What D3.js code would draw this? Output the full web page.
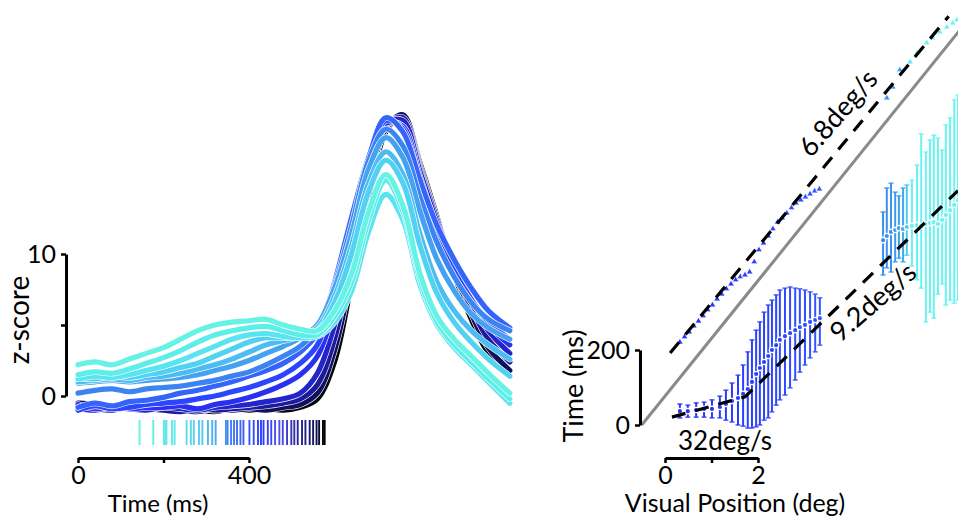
<!DOCTYPE html>
<html><head><meta charset="utf-8">
<script src="https://cdn.jsdelivr.net/npm/d3@7"></script>
<style>
body{margin:0;background:#fff}
svg{display:block}
</style>
</head><body>
<svg id="c" width="958" height="519"></svg>
<script>
// ---------------- DATA ----------------
// Left panel: z-scored population traces, ordered from earliest (cyan) to latest (black) onset
const times = [0,40,80,120,160,200,240,280,320,360,400,440,480,520,560,600,640,680,720,760,800,840,880,920,960,1010];
const trace0  = [2.2,2.4,2.2,2.6,3.0,3.4,4.0,4.6,5.0,5.2,5.3,5.4,5.0,4.7, 4.6,6.0,8.6,13.0,15.6,13.4,8.6,5.6,4.0,2.8,1.6,0.2];
const trace1  = [1.5,1.7,1.6,1.9,2.3,2.7,3.2,3.8,4.3,4.6,4.8,4.9,4.6,4.3, 4.3,5.6,8.0,12.4,15.2,13.0,8.2,5.2,3.6,2.4,1.2,-0.2];
const trace2  = [1.2,1.4,1.3,1.5,1.8,2.1,2.5,3.0,3.5,4.0,4.3,4.4,4.2,4.1, 4.2,5.2,7.4,11.6,14.2,12.4,7.8,5.0,3.4,2.2,1.0,-0.5];
const trace3  = [1.3,1.2,1.4,1.3,1.5,1.7,2.0,2.3,2.8,3.3,3.8,4.1,4.1,4.2, 4.6,6.6,10.0,14.4,16.6,15.0,10.6,7.2,5.2,3.8,2.6,1.4];
const trace4  = [1.0,1.1,1.2,1.1,1.3,1.4,1.6,1.9,2.2,2.6,3.1,3.6,3.9,4.2, 4.8,7.0,10.6,15.0,17.2,15.6,11.4,8.0,6.0,4.6,3.6,2.6];
const trace5  = [0.9,1.0,1.1,1.0,1.1,1.2,1.3,1.5,1.8,2.1,2.5,3.0,3.5,4.1, 5.0,7.6,11.4,16.0,18.2,16.8,13.0,9.6,7.4,5.8,4.8,4.0];
const trace6  = [0.2,0.4,0.5,0.3,0.5,0.6,0.7,0.9,1.1,1.4,1.7,2.2,2.8,3.5, 4.8,7.8,12.0,16.6,18.8,17.6,14.0,10.8,8.4,6.6,5.4,4.6];
const trace7  = [-0.8,-0.5,-0.7,-0.4,-0.3,-0.1,0.2,0.4,0.7,1.0,1.4,1.8,2.3,3.1, 4.4,8.0,12.6,16.8,19.6,18.6,15.2,12.0,9.6,7.6,6.0,4.8];
const trace8  = [-1.0,-0.7,-0.9,-0.8,-0.6,-0.5,-0.4,-0.2,0.0,0.3,0.6,1.0,1.5,2.3, 3.6,7.2,12.0,16.6,19.4,18.8,15.0,11.4,8.8,6.8,5.2,4.0];
const trace9  = [-0.6,-0.9,-0.7,-0.9,-0.8,-0.8,-0.7,-0.9,-0.6,-0.4,-0.1,0.3,0.8,1.5, 2.8,6.2,11.2,16.2,19.2,19.0,15.4,11.8,9.0,6.8,5.0,3.6];
const trace10 = [-0.9,-1.0,-0.8,-0.9,-1.0,-0.8,-0.9,-1.0,-0.8,-0.7,-0.6,-0.4,-0.2,0.2, 1.6,5.0,10.2,15.6,19.2,19.4,15.8,12.2,9.2,6.6,4.6,3.0];
const trace11 = [-0.7,-0.9,-1.0,-0.8,-0.9,-1.0,-1.1,-0.9,-1.0,-0.9,-0.8,-0.7,-0.5,-0.2, 0.8,4.0,9.4,15.0,19.0,19.6,16.0,12.4,9.0,6.2,4.0,2.4];
const trace12 = [-0.5,-0.6,-0.8,-0.7,-0.9,-0.8,-1.0,-1.1,-0.9,-1.0,-0.9,-1.0,-0.8,-0.6, 0.2,3.2,8.6,14.6,18.8,19.8,16.2,12.4,8.8,5.8,3.4,1.8];
const trace13 = [-0.6,-0.8,-0.7,-0.9,-0.8,-1.0,-0.9,-1.0,-1.1,-0.9,-1.0,-0.9,-1.0,-0.8, -0.2,2.4,8.0,14.0,18.6,19.8,16.4,12.6,8.6,5.4,3.0,1.4];
const traces = [trace0,trace1,trace2,trace3,trace4,trace5,trace6,trace7,trace8,trace9,trace10,trace11,trace12,trace13];
const traceColors = ["#66f3e6","#5eeeea","#58e4f0","#52d2f2","#4cbcf2","#44a2f0","#3c84f2","#3464fa","#2c46ff","#2a30f2","#2424cc","#1c1c9a","#101060","#050510"];

// Onset times (ms) shown as raster ticks
const rasterTimes = [144,176,201,204,207,220,226,254,264,271,283,291,304,314,322,346,350,358,365,372,380,387,401,411,421,428,434,444,452,461,471,479,489,499,506,514,524,532,542,550,558,564,573,577];
const rasterColorStops = [144,230,290,330,380,430,470,510,550,577];
const rasterColors = ["#64f2e4","#5ee8ec","#55c8f2","#4a9ef0","#3a66f8","#2a3cff","#5050f0","#2a2aa8","#141460","#000000"];

const leftYTicks = [0,5,10];
const leftXTicks = [0,200,400];

// Right panel: upper (triangles) series
const upperDeg = [0.32,0.42,0.52,0.62,0.72,0.82,0.92,1.02,1.12,1.22,1.32,1.42,1.52,1.62,1.72,1.82,1.92,2.02,2.12,2.22,2.32,2.42,2.52,2.62,2.72,2.82,2.92,3.02,3.12,3.22,3.32,
                  4.77,4.90,5.05,5.27,5.42,5.63,5.76,5.91,6.06,6.19,6.28];
const upperMs  = [221,235,248,264,277,291,307,320,336,349,363,376,387,395,400,408,435,467,485,504,523,541,552,565,579,592,600,608,616,624,629,
                  872,901,947,968,992,1019,1032,1048,1061,1072,1080];
// Right panel: lower (circles with error bars) series
const lowerDeg = [0.32,0.49,0.67,0.84,1.01,1.18,1.31,1.44,1.57,1.68,1.78,1.87,1.96,2.04,2.13,2.22,2.30,2.39,2.47,2.58,2.69,2.80,2.90,3.01,3.12,3.23,3.33,
                  4.69,4.77,4.86,4.95,5.03,5.12,5.20,5.31,5.42,5.51,5.61,5.70,5.78,5.87,5.96,6.04,6.13,6.22,6.30];
const lowerMs  = [37,37,40,43,43,48,56,64,72,83,96,115,136,152,168,184,200,213,227,237,245,253,261,267,275,280,285,
                  493,504,515,520,525,523,528,531,533,531,536,539,541,536,547,560,573,587,600];
const lowerLo  = [19,21,21,21,19,19,13,8,0,-3,-8,-8,-5,0,13,19,35,53,67,80,99,120,141,160,179,195,213,
                  400,419,408,435,445,435,453,424,387,365,275,301,285,349,376,320,333,325,333];
const lowerHi  = [56,53,59,61,67,77,93,112,133,160,195,227,253,275,301,320,333,347,360,365,368,365,363,360,355,349,339,
                  568,632,645,621,611,632,640,653,693,776,728,760,773,765,733,800,819,867,880];
const posColorStops = [0.3,2.0,3.3,4.7,5.1,5.3,6.3];
const posColors = ["#2a30f8","#2a40ff","#3355ff","#3a8cf0","#3aa0f0","#66f2f2","#66f6f0"];

// Reference & fitted lines
const unityDeg = [-0.5,6.4];
const unityMs  = [0,1062];
const fitUpperDeg = [0.11,6.1];
const fitUpperMs  = [192,1090];
const fitLowerDeg = [0.15,1.72,6.3];
const fitLowerMs  = [21,75,625];
const rightYTicks = [0,200];
const rightXTicks = [0,1,2];

// ---------------- DRAW ----------------
const FONT = "Lato, 'Noto Sans', sans-serif";
const svg = d3.select("#c");

const xL = d3.scaleLinear().domain([0,400]).range([78,249]);
const yL = d3.scaleLinear().domain([0,10]).range([396,254]);
const xR = d3.scaleLinear().domain([0,2]).range([665,758]);
const yR = d3.scaleLinear().domain([0,200]).range([425,350]);

// left traces
const trLine = d3.line().x((d,i)=>xL(times[i])).y(d=>yL(d)).curve(d3.curveCatmullRom.alpha(0.5));
const gT = svg.append("g");
for (let k = traces.length-1; k >= 0; k--) {
  gT.append("path").attr("d", trLine(traces[k])).attr("fill","none")
    .attr("stroke","#fff").attr("stroke-width",6.4).attr("stroke-linejoin","round").attr("stroke-linecap","round");
  gT.append("path").attr("d", trLine(traces[k])).attr("fill","none")
    .attr("stroke",traceColors[k]).attr("stroke-width",5.2).attr("stroke-linejoin","round").attr("stroke-linecap","round");
}

// raster
const rasterColor = d3.scaleLinear().domain(rasterColorStops).range(rasterColors);
svg.append("g").selectAll("line").data(rasterTimes).join("line")
  .attr("x1",d=>xL(d)).attr("x2",d=>xL(d)).attr("y1",420).attr("y2",445)
  .attr("stroke",d=>rasterColor(d)).attr("stroke-width",1.9);

function styleAxis(g, fs){
  g.select(".domain").attr("stroke","#000").attr("stroke-width",3);
  g.selectAll(".tick line").attr("stroke","#000").attr("stroke-width",2.5);
  g.selectAll("text").attr("font-family",FONT).attr("font-size",fs).attr("fill","#000");
}
// left axes
const gyL = svg.append("g").attr("transform","translate(66,0)")
  .call(d3.axisLeft(yL).tickValues(leftYTicks).tickFormat(d=>d===5?"":d).tickSizeInner(5).tickSizeOuter(0).tickPadding(5));
styleAxis(gyL,25);
const gxL = svg.append("g").attr("transform","translate(0,458)")
  .call(d3.axisBottom(xL).tickValues(leftXTicks).tickFormat(d=>d===200?"":d).tickSizeInner(5).tickSizeOuter(0).tickPadding(3));
styleAxis(gxL,25);

svg.append("text").attr("transform","translate(29,320) rotate(-90)").attr("text-anchor","middle")
  .attr("font-family",FONT).attr("font-size",28).text("z-score");
svg.append("text").attr("x",158).attr("y",512).attr("text-anchor","middle")
  .attr("font-family",FONT).attr("font-size",24).text("Time (ms)");

// right panel
const pLine = d3.line().x(d=>xR(d[0])).y(d=>yR(d[1]));
svg.append("path").attr("d",pLine(unityDeg.map((d,i)=>[d,unityMs[i]])))
  .attr("fill","none").attr("stroke","#8a8a8a").attr("stroke-width",3);

const posColor = d3.scaleLinear().domain(posColorStops).range(posColors);
const lower = lowerDeg.map((d,i)=>({x:d,y:lowerMs[i],lo:lowerLo[i],hi:lowerHi[i]}));
const gE = svg.append("g");
lower.forEach(p=>{
  const c = posColor(p.x), cx = xR(p.x);
  gE.append("line").attr("x1",cx).attr("x2",cx).attr("y1",yR(p.lo)).attr("y2",yR(p.hi)).attr("stroke",c).attr("stroke-width",2);
  gE.append("line").attr("x1",cx-2.5).attr("x2",cx+2.5).attr("y1",yR(p.lo)).attr("y2",yR(p.lo)).attr("stroke",c).attr("stroke-width",1.3);
  gE.append("line").attr("x1",cx-2.5).attr("x2",cx+2.5).attr("y1",yR(p.hi)).attr("y2",yR(p.hi)).attr("stroke",c).attr("stroke-width",1.3);
});
svg.append("g").selectAll("circle").data(lower).join("circle")
  .attr("cx",d=>xR(d.x)).attr("cy",d=>yR(d.y)).attr("r",2.7)
  .attr("fill",d=>posColor(d.x)).attr("stroke","#fff").attr("stroke-width",1.2);

const upper = upperDeg.map((d,i)=>({x:d,y:upperMs[i]}));
svg.append("g").selectAll("path").data(upper).join("path")
  .attr("d",d3.symbol(d3.symbolTriangle,20))
  .attr("transform",d=>`translate(${xR(d.x)},${yR(d.y)})`)
  .attr("fill",d=>posColor(d.x)).attr("stroke","#fff").attr("stroke-width",0.8);

[[fitUpperDeg,fitUpperMs],[fitLowerDeg,fitLowerMs]].forEach(([xs,ys])=>{
  svg.append("path").attr("d",pLine(xs.map((d,i)=>[d,ys[i]])))
    .attr("fill","none").attr("stroke","#000").attr("stroke-width",3.2).attr("stroke-dasharray","14,10");
});

const gyR = svg.append("g").attr("transform","translate(640,0)")
  .call(d3.axisLeft(yR).tickValues(rightYTicks).tickSizeInner(5).tickSizeOuter(0).tickPadding(5));
styleAxis(gyR,25);
const gxR = svg.append("g").attr("transform","translate(0,458)")
  .call(d3.axisBottom(xR).tickValues(rightXTicks).tickFormat(d=>d===1?"":d).tickSizeInner(5).tickSizeOuter(0).tickPadding(3));
styleAxis(gxR,25);

svg.append("text").attr("transform","translate(583,386) rotate(-90)").attr("text-anchor","middle")
  .attr("font-family",FONT).attr("font-size",27).text("Time (ms)");
svg.append("text").attr("x",735).attr("y",512).attr("text-anchor","middle")
  .attr("font-family",FONT).attr("font-size",25).text("Visual Position (deg)");
svg.append("text").attr("x",725).attr("y",450).attr("text-anchor","middle")
  .attr("font-family",FONT).attr("font-size",26).text("32deg/s");
svg.append("text").attr("transform","translate(838,113) rotate(-49)").attr("text-anchor","middle").attr("dy","0.35em")
  .attr("font-family",FONT).attr("font-size",27).text("6.8deg/s");
svg.append("text").attr("transform","translate(873,302) rotate(-41)").attr("text-anchor","middle").attr("dy","0.35em")
  .attr("font-family",FONT).attr("font-size",27).text("9.2deg/s");
</script>
</body></html>
